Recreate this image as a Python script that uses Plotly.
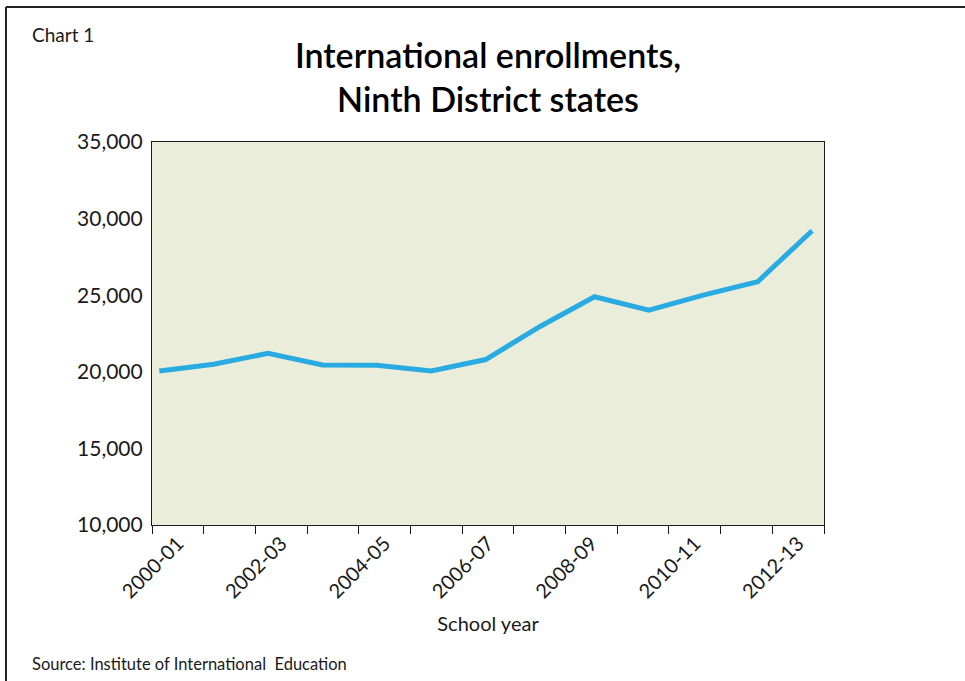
import plotly.graph_objects as go

# International student enrollments in Ninth District states, by school year
school_years = ["2000-01", "2001-02", "2002-03", "2003-04", "2004-05", "2005-06",
                "2006-07", "2007-08", "2008-09", "2009-10", "2010-11", "2011-12",
                "2012-13"]
enrollments = [20050, 20490, 21210, 20440, 20420, 20050, 20800, 22960, 24900,
               24030, 25010, 25880, 29210]

y_ticks = [10000, 15000, 20000, 25000, 30000, 35000]
labelled_years = school_years[::2]

FONT = "Lato"
INK = "#1a1a1a"
n = len(school_years)
positions = list(range(n))

fig = go.Figure()
fig.add_trace(go.Scatter(
    x=school_years, y=enrollments, mode="lines",
    line=dict(color="#29ABE2", width=5),
    xaxis="x", yaxis="y", hoverinfo="x+y", showlegend=False,
))
# invisible companion trace so the labelled overlay axis is drawn
fig.add_trace(go.Scatter(
    x=positions, y=enrollments, mode="none", xaxis="x2", yaxis="y",
    hoverinfo="skip", showlegend=False,
))

fig.update_layout(
    width=965, height=681,
    margin=dict(l=152, r=141, t=142, b=156),
    paper_bgcolor="white",
    plot_bgcolor="#EBEDDB",
    font=dict(family=FONT, color=INK, size=18),
    title=dict(
        text="International enrollments,<br>Ninth District states",
        x=0.5, xanchor="center", xref="paper",
        y=0.90, yanchor="middle",
        font=dict(family=FONT, size=34, color="black", weight=600),
    ),
    # category axis carrying the line
    xaxis=dict(
        type="category", categoryorder="array", categoryarray=school_years,
        range=[-0.134, 12.219], visible=False, showgrid=False,
    ),
    # overlay axis for boundary ticks and every-other-year labels
    xaxis2=dict(
        overlaying="x", side="bottom", type="linear",
        range=[-0.5, n - 0.5],
        tickmode="array",
        tickvals=[school_years.index(s) for s in labelled_years],
        ticktext=labelled_years,
        tickangle=-45, ticks="", showgrid=False, zeroline=False,
        ticklabelstandoff=-2,
        tickfont=dict(size=20, color=INK),
        minor=dict(tickvals=[i - 0.5 for i in range(n + 1)], ticks="outside",
                   ticklen=8, tickwidth=1, tickcolor=INK, showgrid=False),
        showline=True, linecolor=INK, linewidth=1.2, mirror=True,
        title=dict(text="School year", font=dict(size=20, color=INK), standoff=15),
    ),
    yaxis=dict(
        range=[10000, 35000], tickmode="array", tickvals=y_ticks,
        tickformat=",", showgrid=False, zeroline=False, ticks="",
        ticklabelstandoff=4,
        showline=True, linecolor=INK, linewidth=1.2, mirror=True,
        tickfont=dict(size=21, color=INK),
    ),
)

# chart label and source note
fig.add_annotation(text="Chart 1", xref="paper", yref="paper",
                   x=-0.1815, y=1.28, xanchor="left", yanchor="middle",
                   showarrow=False, font=dict(size=19, color=INK))
fig.add_annotation(text="Source: Institute of International  Education",
                   xref="paper", yref="paper",
                   x=-0.1815, y=-0.362, xanchor="left", yanchor="middle",
                   showarrow=False, font=dict(size=16.5, color=INK))

# outer frame: top and left rules
fig.add_shape(type="line", xref="paper", yref="paper",
              x0=-0.2173, x1=1.25, y0=1.3525, y1=1.3525,
              line=dict(color="#222222", width=2))
fig.add_shape(type="line", xref="paper", yref="paper",
              x0=-0.2173, x1=-0.2173, y0=1.3525, y1=-0.45,
              line=dict(color="#222222", width=2))

fig.write_html("out.html")
